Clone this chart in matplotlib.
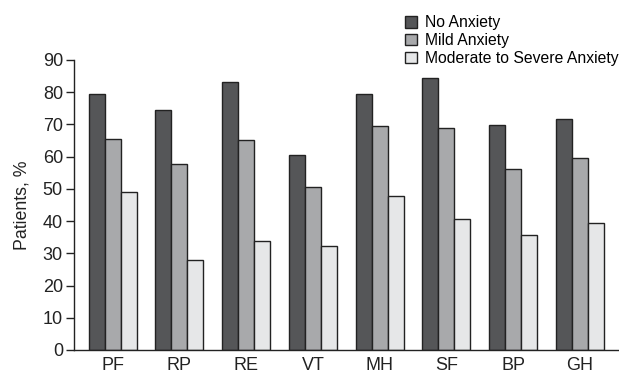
import matplotlib.pyplot as plt
import numpy as np

plt.rcParams['font.family'] = ['Liberation Sans', 'DejaVu Sans']

categories = ['PF', 'RP', 'RE', 'VT', 'MH', 'SF', 'BP', 'GH']
no_anxiety = [79.3, 74.6, 83.1, 60.5, 79.4, 84.5, 69.8, 71.7]
mild_anxiety = [65.5, 57.8, 65.1, 50.7, 69.6, 68.8, 56.3, 59.7]
mod_severe = [48.9, 27.9, 33.9, 32.4, 47.9, 40.8, 35.6, 39.5]
series_names = ['No Anxiety', 'Mild Anxiety', 'Moderate to Severe Anxiety']
colors = ['#555658', '#a8a9ab', '#e6e7e8']

fig = plt.figure(figsize=(6.19, 3.73), dpi=100)
ax = fig.add_axes([74/619, 1 - 350/373, (618 - 74)/619, 290/373])

x = np.arange(len(categories))
w = 0.24
bars = []
for i, vals in enumerate([no_anxiety, mild_anxiety, mod_severe]):
    b = ax.bar(x + (i - 1) * w, vals, width=w, color=colors[i],
               edgecolor='#222222', linewidth=1.0, label=series_names[i])
    bars.append(b)

ax.set_xlim(-0.58, 7.57)
ax.set_ylim(0, 90)
ax.set_yticks(range(0, 91, 10))
ax.set_xticks(x)
ax.set_xticklabels(categories)
ax.tick_params(axis='y', direction='out', length=6, width=1, labelsize=13, colors='#222222', pad=2)
ax.tick_params(axis='x', length=0, labelsize=13, colors='#222222', pad=5)
for s in ['top', 'right']:
    ax.spines[s].set_visible(False)
for s in ['left', 'bottom']:
    ax.spines[s].set_color('#222222')
    ax.spines[s].set_linewidth(1.0)
ax.set_ylabel('Patients, %', fontsize=12.8, color='#222222', labelpad=9)

fig.legend(handles=bars, loc='upper left', bbox_to_anchor=(399/619, 1 - 9/373),
           frameon=False, fontsize=11.3, handlelength=0.75, handleheight=0.75,
           handletextpad=0.5, labelspacing=0.18, borderaxespad=0)

fig.savefig('out.png', dpi=100)
